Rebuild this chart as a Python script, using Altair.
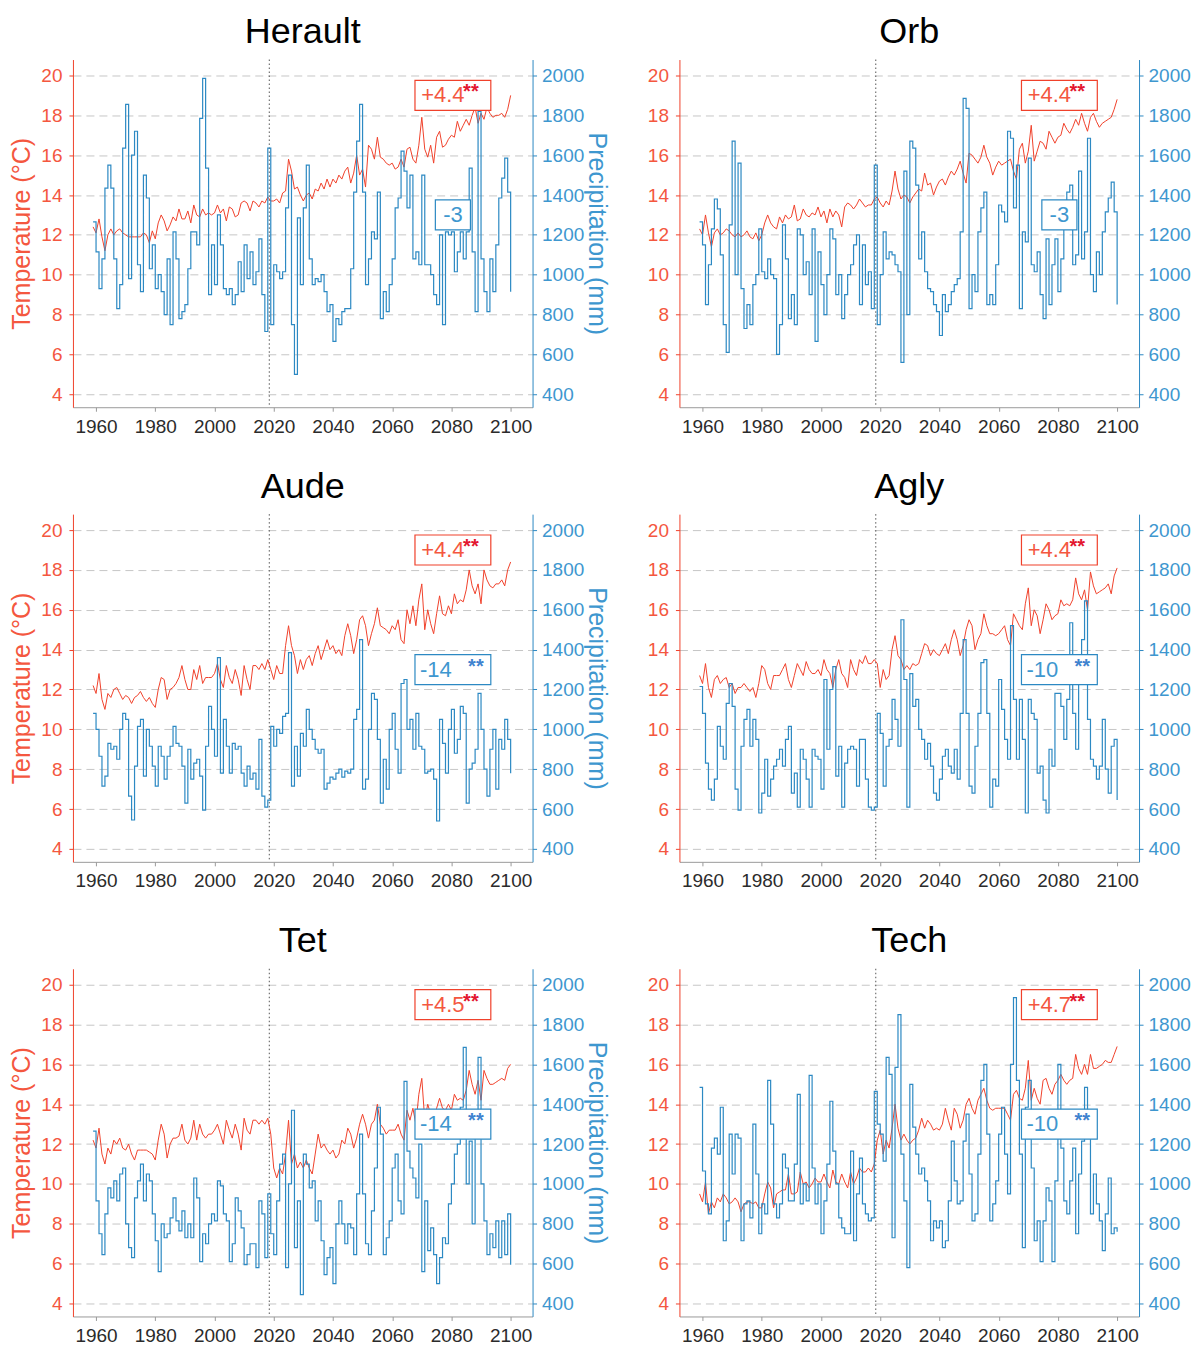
import altair as alt
import pandas as pd

START_YEAR = 1959
x_tick_values = [1960, 1980, 2000, 2020, 2040, 2060, 2080, 2100]
temp_tick_values = [4, 6, 8, 10, 12, 14, 16, 18, 20]
precip_tick_values = [400, 600, 800, 1000, 1200, 1400, 1600, 1800, 2000]
reference_year = [2018.5]

panel_names = ["Herault", "Orb", "Aude", "Agly", "Tet", "Tech"]
temp_change_labels = ["+4.4", "+4.4", "+4.4", "+4.4", "+4.5", "+4.7"]
precip_change_labels = ["-3", "-3", "-14", "-10", "-14", "-10"]
precip_significant = [False, False, True, True, True, True]

herault_temp = [12.4,
    12.1, 12.8, 11.9, 11.2, 12.0, 12.3, 12.0, 12.2, 12.3, 12.1,
    12.0, 11.9, 11.9, 11.9, 11.9, 11.9, 12.1, 12.0, 11.6, 12.2,
    11.8, 12.6, 13.0, 12.7, 12.2, 12.5, 12.9, 12.7, 13.3, 12.8,
    12.8, 13.2, 12.6, 13.5, 13.0, 12.9, 13.3, 13.0, 13.1, 13.0,
    13.1, 13.5, 13.1, 13.3, 12.7, 13.4, 13.3, 12.9, 13.0, 13.6,
    13.7, 13.6, 13.2, 13.7, 13.6, 13.4, 13.7, 13.6, 13.9, 13.7,
    13.7, 13.8, 13.6, 14.1, 14.2, 15.8, 15.2, 14.3, 14.4, 14.0,
    13.7, 14.0, 14.1, 13.8, 14.3, 14.2, 14.6, 14.3, 14.8, 14.4,
    14.8, 14.6, 15.0, 14.8, 15.2, 15.4, 14.6, 15.1, 16.0, 15.0,
    15.3, 14.4, 16.5, 16.3, 15.8, 16.9, 15.9, 15.8, 15.6, 15.5,
    15.6, 15.3, 15.4, 15.8, 15.4, 16.3, 16.4, 15.8, 15.6, 16.5,
    17.9, 16.3, 15.9, 16.5, 15.6, 16.9, 17.2, 16.4, 16.5, 16.8,
    17.0, 16.9, 17.7, 17.2, 17.5, 17.8, 17.5, 18.0, 18.4, 17.6,
    18.1, 17.8, 18.4, 18.1, 17.9, 18.0, 18.0, 18.1, 17.9, 18.3,
    19.0]
herault_precip = [1265,
    1115, 930, 1080, 1435, 1550, 1435, 1080, 830, 950, 1635,
    1855, 980, 1600, 1720, 1050, 915, 1500, 1385, 1030, 1150,
    930, 1000, 915, 800, 1080, 750, 1215, 1080, 780, 815,
    850, 1030, 1215, 1215, 1150, 1785, 1985, 1535, 900, 1150,
    950, 1300, 1150, 930, 900, 930, 850, 900, 1065, 915,
    1150, 980, 1115, 950, 1015, 1180, 900, 715, 1635, 750,
    1050, 1015, 980, 1015, 1335, 1500, 750, 500, 1285, 950,
    1335, 1550, 1080, 950, 980, 965, 1000, 915, 815, 850,
    665, 780, 750, 815, 830, 830, 1030, 1415, 1670, 1855,
    1415, 950, 1080, 1215, 1180, 1415, 780, 915, 815, 950,
    1080, 1335, 1385, 1620, 1520, 1335, 1500, 1080, 1115, 1050,
    1500, 1050, 1050, 1000, 900, 850, 1200, 750, 1215, 1200,
    1215, 1015, 1115, 1215, 1080, 1215, 1535, 1115, 815, 1820,
    1080, 915, 815, 1080, 915, 1150, 1385, 1485, 1585, 1415,
    915]

orb_temp = [12.3,
    12.0, 13.0, 12.1, 11.4, 12.1, 12.3, 12.0, 12.1, 12.3, 12.2,
    12.0, 11.9, 12.1, 11.9, 12.0, 12.2, 11.9, 11.8, 12.1, 11.7,
    12.0, 12.6, 13.0, 12.6, 12.4, 12.3, 12.9, 12.6, 13.0, 12.8,
    12.9, 13.5, 12.7, 12.8, 13.3, 13.0, 12.9, 13.1, 13.0, 13.4,
    12.9, 13.2, 12.6, 13.3, 12.9, 13.2, 13.0, 12.4, 13.4, 13.6,
    13.5, 13.3, 13.5, 13.8, 13.6, 13.4, 13.5, 13.5, 13.8, 13.9,
    13.6, 13.4, 13.7, 13.5, 14.2, 15.2, 14.3, 13.8, 14.0, 13.9,
    13.6, 13.9, 14.1, 14.3, 14.2, 15.1, 14.5, 14.6, 14.0, 14.4,
    14.7, 14.8, 14.5, 14.9, 15.2, 15.0, 15.3, 15.7, 15.1, 14.6,
    16.1, 16.0, 15.8, 15.6, 15.9, 16.5, 15.9, 15.6, 15.0, 15.4,
    15.7, 15.5, 15.6, 15.7, 15.8, 15.2, 14.8, 16.3, 16.6, 15.6,
    16.2, 17.5, 15.7, 16.2, 16.7, 16.6, 16.3, 17.2, 16.9, 16.6,
    16.9, 17.0, 17.6, 17.3, 17.1, 17.4, 17.8, 17.5, 18.1, 17.6,
    17.2, 17.9, 18.1, 17.7, 17.4, 17.6, 17.7, 17.8, 17.9, 18.3,
    18.8]
orb_precip = [1265,
    1150, 850, 1050, 1230, 1380, 1330, 1100, 750, 610, 1250,
    1670, 1000, 1560, 930, 730, 850, 750, 950, 1000, 1230,
    1015, 980, 1080, 1000, 980, 600, 750, 1250, 1080, 780,
    900, 750, 1230, 1200, 1000, 1065, 900, 1230, 665, 1115,
    950, 800, 1000, 1230, 1180, 900, 1000, 780, 900, 1000,
    1050, 1150, 1200, 850, 1150, 950, 1015, 830, 1550, 750,
    1000, 1215, 1080, 1115, 1100, 1050, 1015, 560, 1520, 800,
    1670, 1635, 1450, 1080, 1215, 1015, 930, 915, 850, 815,
    695, 900, 815, 850, 915, 950, 980, 1215, 1885, 1835,
    830, 1000, 915, 1215, 1335, 1415, 850, 900, 850, 1050,
    1350, 1315, 1265, 1720, 1685, 1335, 1550, 830, 1215, 1165,
    1585, 1050, 1015, 1115, 900, 780, 1180, 850, 1050, 1180,
    915, 1080, 1300, 1415, 1450, 1050, 1100, 1520, 1080, 1215,
    1685, 1000, 915, 1115, 1000, 1215, 1315, 1385, 1465, 1315,
    850]

aude_temp = [12.2,
    11.8, 12.8, 11.5, 11.0, 11.8, 11.6, 12.0, 12.1, 11.8, 11.5,
    11.7, 11.6, 11.3, 11.6, 11.7, 11.9, 11.6, 11.4, 11.6, 11.3,
    11.1, 12.0, 12.6, 12.5, 11.5, 12.0, 12.1, 12.3, 12.6, 13.2,
    12.5, 12.0, 12.0, 13.0, 12.5, 13.2, 12.3, 12.6, 12.6, 12.6,
    12.8, 13.3, 12.5, 12.1, 13.2, 12.6, 12.3, 13.0, 12.5, 11.7,
    13.2, 12.5, 12.0, 13.2, 13.2, 13.0, 13.3, 13.0, 13.5, 13.0,
    12.5, 13.2, 12.8, 12.8, 14.2, 15.2, 14.2, 13.7, 12.8, 13.5,
    13.0, 13.5, 13.7, 13.2, 13.8, 14.2, 13.5, 14.0, 14.5, 14.0,
    14.2, 13.8, 14.0, 13.7, 14.7, 15.3, 14.7, 13.8, 14.5, 15.5,
    15.7, 15.2, 14.2, 14.8, 15.3, 16.1, 15.2, 15.1, 15.0, 14.8,
    15.2, 15.0, 15.5, 14.5, 14.3, 16.0, 15.3, 16.2, 15.2, 16.5,
    17.3, 15.0, 16.0, 15.3, 14.8, 15.8, 16.7, 15.8, 15.7, 16.2,
    15.8, 16.8, 16.3, 16.5, 16.4, 17.0, 18.0, 17.2, 16.8, 17.3,
    16.3, 18.0, 17.5, 17.2, 17.1, 17.3, 17.3, 17.5, 17.2, 18.0,
    18.4]
aude_precip = [1080,
    1000, 865, 715, 765, 930, 900, 915, 850, 1000, 1080,
    1050, 665, 545, 815, 1015, 1050, 765, 1000, 915, 815,
    715, 915, 865, 750, 865, 915, 1015, 930, 915, 815,
    630, 900, 750, 830, 850, 765, 595, 915, 1115, 1000,
    865, 1360, 780, 1050, 915, 780, 930, 900, 915, 780,
    715, 815, 750, 780, 700, 950, 665, 610, 645, 1015,
    915, 1000, 980, 1065, 1080, 1385, 715, 915, 765, 980,
    915, 1100, 1000, 950, 900, 880, 900, 700, 730, 760,
    750, 780, 800, 760, 790, 780, 800, 1050, 1100, 1450,
    700, 750, 1000, 1180, 1150, 950, 630, 850, 700, 1000,
    1080, 900, 780, 1230, 1250, 1000, 1050, 900, 1080, 915,
    900, 780, 790, 800, 750, 540, 1050, 930, 780, 1000,
    1100, 880, 950, 1115, 1080, 630, 800, 830, 900, 1180,
    1000, 800, 665, 900, 1000, 700, 950, 900, 1050, 950,
    780]

agly_temp = [12.7,
    12.3, 13.3, 12.1, 11.6, 12.5, 12.7, 12.3, 12.5, 12.6, 12.1,
    12.3, 11.8, 12.1, 12.1, 12.3, 12.1, 11.9, 12.1, 11.6, 12.3,
    13.2, 13.0, 12.3, 12.0, 12.7, 12.7, 12.7, 13.0, 13.3, 12.5,
    12.1, 12.7, 13.3, 13.0, 12.7, 13.4, 13.0, 12.8, 12.8, 13.0,
    12.7, 13.5, 13.0, 12.8, 12.1, 13.0, 13.5, 12.8, 12.6, 12.1,
    13.5, 13.0, 12.7, 13.5, 13.3, 13.7, 13.3, 13.3, 13.5, 13.3,
    12.1, 13.0, 12.5, 12.7, 14.0, 14.7, 13.7, 13.5, 13.0, 13.2,
    13.0, 13.3, 13.2, 13.3, 13.8, 14.3, 14.2, 13.7, 14.0, 13.8,
    13.7, 14.0, 14.3, 13.8, 14.5, 15.0, 14.5, 13.7, 14.2, 15.0,
    15.5, 15.2, 14.0, 14.5, 14.8, 15.8, 15.2, 14.8, 14.8, 14.7,
    14.8, 15.0, 15.2, 14.5, 14.2, 15.8, 15.5, 15.2, 15.0, 16.3,
    17.1, 15.2, 16.0, 15.7, 14.8, 15.5, 16.3, 16.0, 15.5, 15.7,
    15.8, 16.5, 16.2, 16.3, 16.2, 16.5, 17.6, 16.8, 16.5, 17.0,
    16.0, 17.9, 17.2, 16.8, 16.9, 17.0, 17.1, 17.3, 16.8, 17.7,
    18.1]
agly_precip = [1215,
    1080, 830, 700, 645, 750, 1015, 915, 850, 1130, 1230,
    1115, 700, 595, 915, 1050, 1100, 915, 1050, 950, 580,
    680, 850, 665, 750, 815, 850, 900, 815, 950, 1015,
    680, 780, 610, 900, 850, 750, 610, 900, 865, 850,
    700, 1250, 900, 1200, 1315, 765, 915, 610, 830, 900,
    915, 900, 715, 950, 950, 750, 610, 595, 610, 1080,
    980, 715, 915, 950, 1150, 1050, 915, 1550, 1250, 610,
    1280, 1115, 1150, 1000, 950, 850, 930, 815, 680, 645,
    750, 865, 900, 815, 780, 900, 750, 1080, 1450, 1080,
    715, 680, 915, 1080, 1335, 1350, 1080, 610, 750, 715,
    1250, 1100, 950, 850, 1520, 1150, 850, 1150, 950, 580,
    1150, 1080, 1050, 780, 815, 645, 580, 900, 815, 1180,
    1180, 1115, 950, 1150, 1535, 1080, 900, 1250, 1450, 1645,
    1050, 850, 815, 750, 815, 1050, 800, 680, 915, 950,
    645]

tet_temp = [12.2,
    11.8, 12.8, 11.5, 11.0, 11.8, 11.5, 12.2, 12.0, 12.3, 11.8,
    11.7, 12.0, 11.5, 11.2, 11.7, 11.7, 11.7, 11.7, 11.6, 11.5,
    11.2, 12.2, 13.0, 12.5, 11.3, 12.0, 12.3, 12.3, 12.4, 13.0,
    12.2, 12.0, 12.3, 13.2, 12.2, 13.0, 12.5, 12.3, 12.5, 12.5,
    12.7, 13.0, 12.5, 12.0, 13.2, 12.7, 12.3, 13.0, 12.5, 11.7,
    13.3, 12.7, 12.5, 13.2, 13.2, 13.0, 13.2, 13.0, 13.3, 12.5,
    10.8, 10.3, 10.8, 10.5, 11.5, 13.2, 11.0, 11.5, 10.8, 11.1,
    10.8, 11.2, 10.8, 10.5, 11.5, 12.5, 11.8, 12.0, 11.7, 11.5,
    11.7, 11.3, 11.5, 12.2, 12.0, 12.8, 12.5, 11.8, 12.3, 13.0,
    13.5, 13.0, 12.3, 13.0, 13.2, 14.0, 13.0, 12.8, 12.5, 12.7,
    12.7, 12.7, 13.0, 12.5, 12.2, 13.7, 13.2, 13.8, 13.0, 14.5,
    15.3, 13.2, 14.0, 13.5, 13.0, 13.8, 14.3, 13.8, 13.7, 14.0,
    13.7, 14.5, 14.2, 14.3, 14.2, 14.7, 15.7, 15.0, 14.5, 15.2,
    14.2, 15.7, 15.3, 15.0, 15.0, 15.1, 15.2, 15.3, 15.2, 15.8,
    16.0]
tet_precip = [1265,
    915, 750, 645, 850, 980, 930, 1015, 915, 1050, 1080,
    800, 680, 630, 930, 1015, 1100, 915, 1050, 1015, 850,
    715, 560, 800, 730, 750, 830, 930, 815, 765, 865,
    730, 800, 730, 1030, 930, 610, 750, 700, 800, 850,
    815, 1015, 990, 850, 815, 610, 700, 930, 865, 780,
    595, 645, 700, 700, 580, 915, 850, 630, 950, 750,
    645, 915, 1100, 1150, 580, 1000, 1370, 680, 915, 445,
    1150, 1100, 980, 1015, 815, 915, 715, 545, 630, 680,
    500, 800, 915, 800, 700, 800, 780, 645, 950, 1250,
    950, 700, 645, 865, 1080, 1385, 1250, 645, 730, 815,
    1080, 1150, 915, 850, 1515, 1165, 1080, 1030, 930, 1200,
    560, 915, 665, 780, 645, 500, 630, 730, 700, 900,
    1000, 1150, 1200, 1385, 1685, 1000, 1215, 800, 1250, 1635,
    1000, 815, 645, 750, 680, 815, 630, 815, 645, 850,
    595]

tech_temp = [9.5,
    9.1, 10.1, 8.5, 9.1, 8.8, 9.3, 9.1, 9.5, 9.3, 9.0,
    9.1, 9.3, 9.1, 8.6, 9.0, 9.1, 9.1, 9.0, 9.1, 8.8,
    8.8, 9.5, 10.1, 9.8, 8.8, 9.5, 9.6, 9.7, 9.7, 10.5,
    9.5, 9.5, 9.6, 10.6, 10.0, 10.1, 9.8, 10.0, 10.3, 10.1,
    10.1, 10.5, 10.1, 9.8, 10.7, 10.1, 10.0, 10.5, 10.1, 9.8,
    10.6, 10.0, 10.3, 10.8, 10.6, 10.6, 10.8, 10.6, 11.0, 12.2,
    12.7, 11.5, 12.2, 11.8, 12.8, 14.0, 12.8, 12.2, 12.5, 12.2,
    12.0, 12.2, 12.3, 12.7, 13.3, 12.8, 13.2, 13.0, 12.7, 12.8,
    12.7, 13.0, 13.8, 13.2, 12.7, 13.8, 13.5, 12.8, 13.2, 14.0,
    14.3, 13.8, 13.5, 14.2, 14.5, 14.8, 14.2, 13.8, 13.7, 13.8,
    13.8, 13.8, 13.8, 13.5, 13.2, 14.5, 14.7, 14.3, 14.2, 14.8,
    16.2, 14.2, 14.8, 14.3, 14.0, 15.2, 15.3, 14.8, 14.5, 15.0,
    15.2, 15.5, 15.2, 15.0, 15.2, 15.3, 16.5, 15.8, 15.5, 16.0,
    15.5, 16.5, 15.8, 15.8, 15.9, 16.0, 16.2, 16.1, 16.1, 16.5,
    16.9]
tech_precip = [1485,
    1065, 900, 850, 1180, 1230, 1150, 1385, 715, 815, 1250,
    1050, 1250, 1230, 715, 900, 915, 830, 1300, 1050, 750,
    900, 850, 1520, 1300, 900, 830, 900, 1150, 1080, 915,
    915, 1100, 1450, 900, 1000, 915, 1545, 1080, 900, 1000,
    750, 915, 1100, 1415, 1165, 1000, 830, 780, 750, 750,
    1165, 715, 950, 1130, 900, 850, 815, 830, 1465, 1300,
    1250, 1115, 1635, 1550, 730, 1585, 1850, 1150, 915, 580,
    1500, 1285, 1150, 1050, 1080, 1015, 915, 715, 815, 780,
    815, 680, 715, 915, 1215, 1015, 900, 915, 1215, 1350,
    1050, 815, 850, 1150, 1520, 1600, 1250, 815, 900, 1015,
    1250, 1385, 1150, 950, 1600, 1935, 1520, 1150, 680, 1385,
    1520, 1080, 715, 815, 610, 815, 980, 915, 610, 1015,
    1600, 1180, 915, 850, 1015, 1180, 750, 1050, 1215, 1485,
    1335, 850, 1050, 900, 815, 665, 850, 1030, 750, 780,
    760]

temp_series = [herault_temp, orb_temp, aude_temp, agly_temp, tet_temp, tech_temp]
precip_series = [herault_precip, orb_precip, aude_precip, agly_precip, tet_precip, tech_precip]

# ---------------- styling ----------------
FONT = "Liberation Sans"
RED_LINE = "#F0412B"
RED_TEXT = "#F4573F"
RED_STAR = "#E3162F"
BLUE_LINE = "#2C89C3"
BLUE_TEXT = "#3E97CF"
BLUE_STAR = "#3F83CF"
GRID = "#C6C6C6"

TEMP_DOMAIN = [3.35, 20.8]
PRECIP_PER_DEGREE = 100  # both y scales share the same pixel mapping
PRECIP_DOMAIN = [TEMP_DOMAIN[0] * PRECIP_PER_DEGREE, TEMP_DOMAIN[1] * PRECIP_PER_DEGREE]
X_DOMAIN = [1952.2, 2107.4]

LABEL_YEAR = 2080.5
TEMP_BOX_LEVEL = 19.0     # degC
PRECIP_BOX_LEVEL = 1300   # mm

BOX_WIDE = "M-2.53,-1H2.53V1H-2.53Z"
BOX_NARROW = "M-1.17,-1H1.17V1H-1.17Z"


def make_panel(i, left_col):
    temps = temp_series[i]
    precs = precip_series[i]
    tdf = pd.DataFrame({"year": list(range(START_YEAR, START_YEAR + len(temps))), "temp": temps})
    pdf = pd.DataFrame({"year": list(range(START_YEAR, START_YEAR + len(precs))), "precip": precs})
    rule_df = pd.DataFrame({"year": reference_year})
    red_df = pd.DataFrame({"year": [LABEL_YEAR], "precip": [TEMP_BOX_LEVEL * PRECIP_PER_DEGREE],
                           "label": [temp_change_labels[i]], "stars": ["**"]})
    blue_df = pd.DataFrame({"year": [LABEL_YEAR], "precip": [PRECIP_BOX_LEVEL],
                            "label": [precip_change_labels[i]],
                            "stars": ["**" if precip_significant[i] else ""]})

    x_enc = alt.X("year:Q",
                  scale=alt.Scale(domain=X_DOMAIN, nice=False, zero=False),
                  axis=alt.Axis(values=x_tick_values, format="d", title=None, grid=False,
                                labelFontSize=19, labelColor="#2b2b2b", labelPadding=6,
                                domainColor="#9a9a9a", tickColor="#9a9a9a", tickSize=4,
                                labelFlush=False))
    y_t = alt.Y("temp:Q",
                scale=alt.Scale(domain=TEMP_DOMAIN, nice=False, zero=False),
                axis=alt.Axis(values=temp_tick_values, orient="left", format="d",
                              title="Temperature (°C)" if left_col else None,
                              titleColor=RED_TEXT, titleFontSize=25, titleFontWeight="normal",
                              titlePadding=6,
                              labelColor=RED_TEXT, labelFontSize=19, labelPadding=7,
                              domainColor=RED_LINE, tickColor=RED_LINE, tickSize=4,
                              grid=True, gridDash=[8, 5], gridColor=GRID, gridWidth=1))
    y_p = alt.Y("precip:Q",
                scale=alt.Scale(domain=PRECIP_DOMAIN, nice=False, zero=False),
                axis=alt.Axis(values=precip_tick_values, orient="right", format="d",
                              title="Precipitation (mm)" if left_col else None,
                              titleColor=BLUE_TEXT, titleFontSize=25, titleFontWeight="normal",
                              titlePadding=0,
                              labelColor=BLUE_TEXT, labelFontSize=19, labelPadding=5,
                              domainColor=BLUE_LINE, tickColor=BLUE_LINE, tickSize=4,
                              grid=False))

    temp_line = alt.Chart(tdf).mark_line(color=RED_LINE, strokeWidth=1).encode(x=x_enc, y=y_t)
    rule = alt.Chart(rule_df).mark_rule(color="#555555", strokeDash=[1.5, 2.5], strokeWidth=1).encode(x=x_enc)
    temp_layer = alt.layer(rule, temp_line)

    precip_line = alt.Chart(pdf).mark_line(color=BLUE_LINE, strokeWidth=1.2,
                                           interpolate="step-after").encode(x=x_enc, y=y_p)
    red_box = alt.Chart(red_df).mark_point(shape=BOX_WIDE, size=900, filled=True, color="white",
                                           stroke=RED_LINE, strokeWidth=1.2, opacity=1).encode(x=x_enc, y=y_p)
    red_txt = alt.Chart(red_df).mark_text(fontSize=22, color=RED_TEXT, dx=-10, baseline="middle",
                                          align="center").encode(x=x_enc, y=y_p, text="label:N")
    red_star = alt.Chart(red_df).mark_text(fontSize=20, fontWeight="bold", color=RED_STAR, dx=18, dy=-3,
                                           baseline="middle", align="center").encode(x=x_enc, y=y_p, text="stars:N")
    blue_shape = BOX_WIDE if precip_significant[i] else BOX_NARROW
    blue_dx = -17 if precip_significant[i] else 0
    blue_box = alt.Chart(blue_df).mark_point(shape=blue_shape, size=900, filled=True, color="white",
                                             stroke=BLUE_LINE, strokeWidth=1.2, opacity=1).encode(x=x_enc, y=y_p)
    blue_txt = alt.Chart(blue_df).mark_text(fontSize=22, color=BLUE_TEXT, dx=blue_dx, baseline="middle",
                                            align="center").encode(x=x_enc, y=y_p, text="label:N")
    blue_star = alt.Chart(blue_df).mark_text(fontSize=20, fontWeight="bold", color=BLUE_STAR, dx=23, dy=-3,
                                             baseline="middle", align="center").encode(x=x_enc, y=y_p, text="stars:N")
    precip_layer = alt.layer(precip_line, red_box, red_txt, red_star, blue_box, blue_txt, blue_star)

    return (alt.layer(temp_layer, precip_layer)
            .resolve_scale(y="independent")
            .properties(width=460, height=348,
                        title=alt.TitleParams(panel_names[i], fontSize=36, fontWeight="normal",
                                              color="#000000", anchor="middle", offset=8, font=FONT)))


rows = []
for r in range(3):
    rows.append(alt.hconcat(make_panel(2 * r, True), make_panel(2 * r + 1, False), spacing=37))

chart = (alt.vconcat(*rows, spacing=32)
         .properties(padding={"left": 1, "top": 5, "right": 0, "bottom": 0})
         .configure(font=FONT)
         .configure_view(stroke=None)
         .configure_axis(labelFont=FONT, titleFont=FONT))

chart.save("out.html", embed_options={"renderer": "svg", "actions": False})
